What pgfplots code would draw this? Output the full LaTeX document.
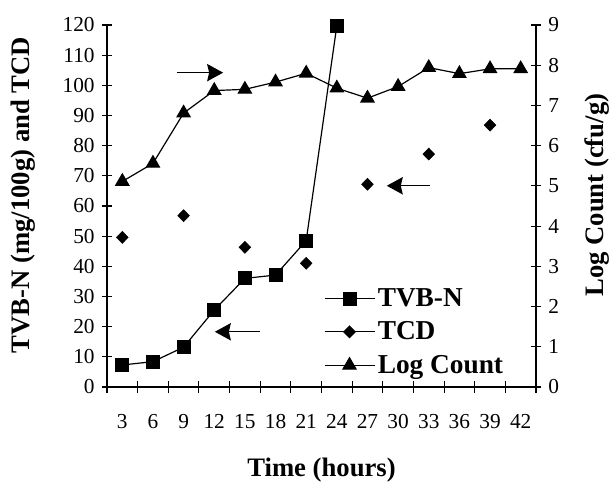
\documentclass[border=0pt]{standalone}
\usepackage{fontspec}
\setmainfont{Liberation Serif}
\usepackage{pgfplots}
\pgfplotsset{compat=1.18}
\usetikzlibrary{arrows.meta}
\newcommand{\tickfont}{\fontsize{16}{19}\selectfont}
\newcommand{\lblfont}{\fontsize{20}{23}\selectfont\bfseries}
\newcommand{\legfont}{\fontsize{20.5}{23}\selectfont\bfseries}
\begin{document}
\begin{tikzpicture}
\begin{axis}[
  name=ax,
  scale only axis, width=321.75pt, height=271.5pt,
  xmin=0, xmax=14, ymin=0, ymax=120,
  axis y line*=left, axis x line*=bottom,
  axis line style={line width=0.8pt, -},
  xtick={0.5,1.5,...,13.5},
  xticklabels={3,6,9,12,15,18,21,24,27,30,33,36,39,42},
  minor xtick={0,1,...,14},
  major x tick style={draw=none},
  minor tick length=9pt,
  ytick={0,10,...,120},
  major tick length=7.5pt,
  tick align=center,
  tick style={line width=0.8pt, black},
  /pgf/number format/assume math mode=true,
  tick label style={font=\tickfont},
  xticklabel style={yshift=-13pt},
  yticklabel style={xshift=-2pt},
  clip=false,
  legend style={at={(rel axis cs:0.505,0.28)}, anchor=north west, draw=none, fill=none,
    font=\legfont, row sep=6pt, inner sep=0pt},
  legend cell align=left,
  legend image code/.code={\draw[mark repeat=2,mark phase=2] plot coordinates {(0pt,0pt)(18.75pt,0pt)(37.5pt,0pt)};},
]
\addlegendimage{black, line width=0.9pt, mark=square*, mark size=4.8pt}
\addlegendimage{black, line width=0.9pt, mark=diamond*, mark size=4.3pt, mark options={xscale=1.3}}
\addlegendimage{black, line width=0.9pt, mark=triangle*, mark size=5.6pt}
\addplot[forget plot, black, line width=0.9pt, mark=square*, mark size=4.8pt] coordinates {
(0.5,7.3)(1.5,8.4)(2.5,13.2)(3.5,25.5)(4.5,36)(5.5,37.1)(6.5,48.5)(7.5,119.7)};
\addplot[forget plot, black, only marks, mark=diamond*, mark size=4.5pt, mark options={xscale=1.3}] coordinates {
(0.5,49.6)(2.5,56.8)(4.5,46.3)(6.5,41)(8.5,67.2)(10.5,77.2)(12.5,86.8)};
\legend{TVB-N, TCD, Log Count}
\draw[line width=1pt, -{Stealth[length=12pt,width=13pt,inset=1.5pt]}] (axis cs:2.28,104.2) -- (axis cs:3.79,104.2);
\draw[line width=1pt, -{Stealth[length=12pt,width=13pt,inset=1.5pt]}] (axis cs:4.99,18.3) -- (axis cs:3.52,18.3);
\draw[line width=1pt, -{Stealth[length=12pt,width=13pt,inset=1.5pt]}] (axis cs:10.54,66.7) -- (axis cs:9.13,66.7);
\node[font=\lblfont, rotate=90] at (rel axis cs:-0.196,0.53) {TVB-N (mg/100g) and TCD};
\node[font=\lblfont, rotate=90] at (rel axis cs:1.1425,0.53) {Log Count (cfu/g)};
\node[font=\lblfont] at (rel axis cs:0.5,-0.229) {Time (hours)};
\end{axis}
\begin{axis}[
  scale only axis, width=321.75pt, height=271.5pt,
  xmin=0, xmax=14, ymin=0, ymax=9,
  axis y line*=right, axis x line=none,
  axis line style={line width=0.8pt, -},
  ytick={0,1,...,9},
  major tick length=7.5pt,
  tick align=center,
  tick style={line width=0.8pt, black},
  /pgf/number format/assume math mode=true,
  tick label style={font=\tickfont},
  yticklabel style={xshift=2pt},
  clip=false,
]
\addplot[black, line width=0.9pt, mark=triangle*, mark size=5.6pt] coordinates {
(0.5,5.11)(1.5,5.56)(2.5,6.81)(3.5,7.37)(4.5,7.4)(5.5,7.58)(6.5,7.8)(7.5,7.43)(8.5,7.18)(9.5,7.47)(10.5,7.94)(11.5,7.79)(12.5,7.91)(13.5,7.91)};
\end{axis}
\pgfresetboundingbox
\path[use as bounding box] ([xshift=-80.25pt,yshift=-72.75pt]ax.south west) rectangle ([xshift=55.5pt,yshift=18.75pt]ax.north east);
\end{tikzpicture}
\end{document}
